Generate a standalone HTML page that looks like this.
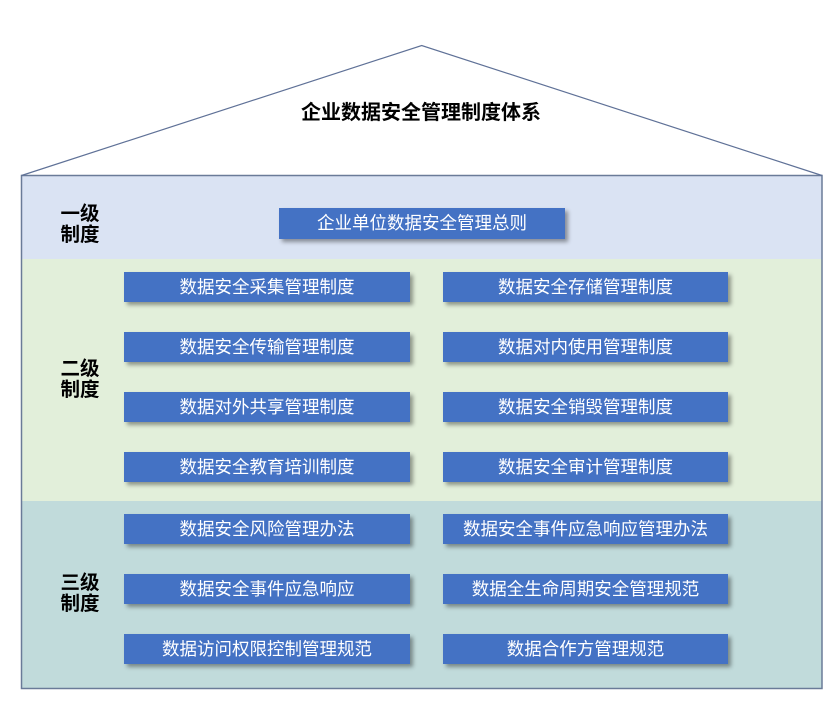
<!DOCTYPE html>
<html><head><meta charset="utf-8">
<style>
html,body{margin:0;padding:0;background:#fff;}
body{width:835px;height:705px;position:relative;overflow:hidden;font-family:"Liberation Sans","Noto Sans CJK SC",sans-serif;}
svg{position:absolute;left:0;top:0;}
.t{position:absolute;left:0;top:0;}
.title{position:absolute;left:221px;width:400px;top:100px;text-align:center;font-size:20px;font-weight:bold;color:#000;line-height:26px;letter-spacing:0;}
.lbl{position:absolute;left:56px;width:48px;text-align:center;font-size:19.5px;font-weight:bold;line-height:21px;color:#000;}
.b{position:absolute;height:30px;background:#4472c4;color:#fff;font-size:17.5px;line-height:30px;text-align:center;box-shadow:3px 3px 4px rgba(0,0,0,0.38);white-space:nowrap;letter-spacing:0;}
.l{left:124px;width:286px;}
.r{left:443px;width:285px;}
</style></head>
<body>
<svg width="835" height="705" viewBox="0 0 835 705">
  <rect x="21.5" y="175.5" width="800.5" height="84" fill="#dae3f3"/>
  <rect x="21.5" y="259" width="800.5" height="242" fill="#e2efda"/>
  <rect x="21.5" y="501" width="800.5" height="187.5" fill="#c1dbdb"/>
  <rect x="21.5" y="175.5" width="800.5" height="513" fill="none" stroke="#6a7b98" stroke-width="1.5"/>
  <polyline points="21.5,175.5 421.7,45.5 822,175.5" fill="none" stroke="#5f7197" stroke-width="1.2"/>
</svg>
<div class="title">企业数据安全管理制度体系</div>

<div class="lbl" style="top:204px;">一级<br>制度</div>
<div class="lbl" style="top:359px;">二级<br>制度</div>
<div class="lbl" style="top:573px;">三级<br>制度</div>

<div class="b" style="left:279px;width:286px;top:208px;height:31px;line-height:31px;">企业单位数据安全管理总则</div>

<div class="b l" style="top:272px;">数据安全采集管理制度</div>
<div class="b r" style="top:272px;">数据安全存储管理制度</div>
<div class="b l" style="top:332px;">数据安全传输管理制度</div>
<div class="b r" style="top:332px;">数据对内使用管理制度</div>
<div class="b l" style="top:392px;">数据对外共享管理制度</div>
<div class="b r" style="top:392px;">数据安全销毁管理制度</div>
<div class="b l" style="top:452px;">数据安全教育培训制度</div>
<div class="b r" style="top:452px;">数据安全审计管理制度</div>

<div class="b l" style="top:514px;">数据安全风险管理办法</div>
<div class="b r" style="top:514px;">数据安全事件应急响应管理办法</div>
<div class="b l" style="top:574px;">数据安全事件应急响应</div>
<div class="b r" style="top:574px;">数据全生命周期安全管理规范</div>
<div class="b l" style="top:634px;">数据访问权限控制管理规范</div>
<div class="b r" style="top:634px;">数据合作方管理规范</div>
</body></html>
